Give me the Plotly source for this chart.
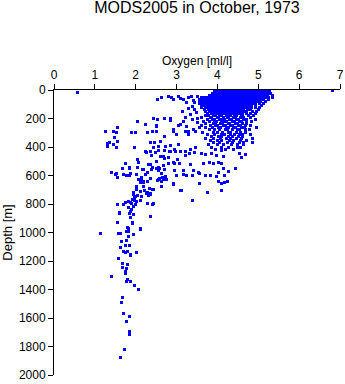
import plotly.graph_objects as go

# Dense core (0-415 m): depth of each row and oxygen values read along that row
dense_depths = [0, 14, 28, 42, 56, 70, 84, 98, 112, 126, 140, 154, 168, 182,
                196, 210, 224, 238, 252, 266, 280, 295, 310, 325, 340, 355, 370, 385, 400, 415]
dense_oxygen_rows = [
    [3.92, 3.99, 4.06, 4.12, 4.19, 4.26, 4.33, 4.40, 4.46, 4.53, 4.60, 4.67, 4.74, 4.80, 4.87, 4.94, 5.01, 5.08, 5.14, 5.21, 5.28],
    [3.95, 4.02, 4.09, 4.16, 4.23, 4.29, 4.36, 4.43, 4.50, 4.57, 4.63, 4.70, 4.77, 4.84, 4.91, 4.97, 5.04, 5.11, 5.18, 5.25],
    [3.88, 3.95, 4.02, 4.09, 4.15, 4.22, 4.29, 4.36, 4.43, 4.49, 4.56, 4.63, 4.70, 4.77, 4.83, 4.90, 4.97, 5.04, 5.11, 5.17, 5.24, 5.31],
    [3.80, 3.87, 3.93, 4.00, 4.07, 4.14, 4.21, 4.27, 4.34, 4.41, 4.48, 4.55, 4.61, 4.68, 4.75, 4.82, 4.89, 4.95, 5.02, 5.09, 5.16, 5.23, 5.34],
    [3.60, 3.67, 3.74, 3.81, 3.88, 3.95, 4.02, 4.08, 4.15, 4.22, 4.29, 4.36, 4.42, 4.49, 4.56, 4.63, 4.70, 4.76, 4.83, 4.90, 4.97, 5.04, 5.10, 5.17, 5.26, 5.36],
    [3.56, 3.63, 3.70, 3.77, 3.84, 3.91, 3.97, 4.04, 4.11, 4.18, 4.25, 4.31, 4.38, 4.45, 4.52, 4.59, 4.65, 4.72, 4.79, 4.86, 4.93, 4.99, 5.06, 5.13, 5.24],
    [3.55, 3.62, 3.69, 3.75, 3.82, 3.89, 3.96, 4.03, 4.09, 4.16, 4.23, 4.30, 4.37, 4.43, 4.50, 4.57, 4.64, 4.71, 4.77, 4.84, 4.91, 4.98, 5.05, 5.18],
    [3.57, 3.64, 3.71, 3.78, 3.85, 3.92, 3.98, 4.05, 4.12, 4.19, 4.26, 4.32, 4.39, 4.46, 4.53, 4.60, 4.66, 4.73, 4.80, 4.87, 4.94, 5.02, 5.12],
    [3.60, 3.68, 3.75, 3.82, 3.88, 3.95, 4.02, 4.09, 4.16, 4.22, 4.29, 4.36, 4.43, 4.50, 4.56, 4.63, 4.70, 4.77, 4.84, 4.92, 5.08],
    [3.62, 3.72, 3.79, 3.86, 3.93, 4.00, 4.06, 4.13, 4.20, 4.27, 4.34, 4.40, 4.47, 4.54, 4.61, 4.68, 4.75, 4.83, 4.92, 5.02],
    [3.68, 3.77, 3.84, 3.90, 3.97, 4.04, 4.11, 4.18, 4.24, 4.31, 4.38, 4.45, 4.52, 4.58, 4.65, 4.73, 4.82, 5.00],
    [3.72, 3.81, 3.88, 3.95, 4.02, 4.08, 4.15, 4.22, 4.29, 4.36, 4.42, 4.49, 4.56, 4.64, 4.72, 4.85, 4.96],
    [3.76, 3.85, 3.92, 3.99, 4.06, 4.13, 4.20, 4.26, 4.33, 4.40, 4.47, 4.54, 4.62, 4.70, 4.80, 4.92],
    [3.70, 3.79, 3.90, 3.95, 4.06, 4.10, 4.21, 4.27, 4.31, 4.42, 4.47, 4.58, 4.61, 4.77, 4.88],
    [3.62, 3.83, 3.86, 3.99, 4.03, 4.15, 4.24, 4.28, 4.39, 4.44, 4.57, 4.64, 4.80],
    [3.75, 3.88, 3.92, 4.04, 4.13, 4.17, 4.30, 4.34, 4.46, 4.51, 4.63, 4.71, 4.92],
    [3.66, 3.80, 3.93, 3.98, 4.11, 4.16, 4.23, 4.36, 4.41, 4.54, 4.60, 4.72, 4.84],
    [3.72, 3.90, 3.95, 4.08, 4.13, 4.26, 4.30, 4.43, 4.48, 4.62, 4.70],
    [3.60, 3.82, 3.96, 4.01, 4.14, 4.19, 4.33, 4.38, 4.51, 4.56, 4.69, 4.82],
    [3.70, 3.88, 4.02, 4.07, 4.21, 4.26, 4.40, 4.45, 4.59, 4.66, 4.95],
    [3.80, 3.94, 4.05, 4.19, 4.24, 4.36, 4.49, 4.53, 4.68, 4.78],
    [3.64, 3.90, 3.99, 4.12, 4.27, 4.33, 4.47, 4.57, 4.68],
    [3.76, 3.93, 4.10, 4.18, 4.33, 4.41, 4.55, 4.62, 4.82],
    [3.86, 4.03, 4.11, 4.27, 4.36, 4.51, 4.61],
    [3.70, 3.90, 4.07, 4.22, 4.31, 4.47, 4.58, 4.85],
    [3.82, 4.00, 4.10, 4.29, 4.40, 4.57, 4.72],
    [3.90, 4.04, 4.24, 4.36, 4.53, 4.64, 4.86],
    [3.78, 3.99, 4.14, 4.35, 4.48, 4.63],
    [3.86, 4.09, 4.28, 4.49, 4.57],
    [3.95, 4.20, 4.40],
]

# Scattered observations (oxygen ml/l, depth m)
shallow_pts = [
    (0.57, 14), (6.81, 0),
    (2.54, 70), (2.62, 52), (2.80, 44), (2.88, 55), (2.93, 68), (3.05, 49), (3.10, 62), (3.17, 68),
    (3.25, 91), (3.30, 56), (3.36, 48), (3.42, 72), (3.45, 85), (3.50, 44), (3.60, 60),
    (2.05, 224), (2.25, 243), (2.52, 248), (2.54, 208), (2.70, 203), (2.85, 200), (2.43, 199),
    (3.09, 243), (3.25, 255), (2.93, 278), (3.17, 220), (3.38, 208), (3.50, 231), (3.42, 278),
    (3.28, 290), (3.56, 266), (2.84, 215), (3.04, 246), (2.51, 253),
    (1.27, 294), (1.46, 294), (1.54, 301), (1.55, 266), (1.90, 301), (2.00, 301), (2.30, 301),
    (2.41, 294), (2.52, 290), (2.93, 290), (3.23, 290), (3.46, 294), (3.15, 150), (3.30, 130),
    (3.48, 160), (3.40, 115), (3.35, 175), (3.22, 190), (3.52, 200), (3.44, 140),
]
mid_pts = [
    (2.71, 329), (3.01, 313), (3.30, 313), (1.48, 336), (1.55, 360), (1.37, 371), (1.32, 395),
    (1.52, 402), (1.30, 376), (1.46, 381), (1.96, 406), (2.35, 371), (2.45, 367), (2.44, 406),
    (2.56, 395), (2.72, 395), (2.85, 390), (2.60, 363), (2.96, 416), (3.04, 379), (2.82, 433), (2.55, 428),
    (2.24, 434), (2.35, 430), (2.48, 441), (2.56, 425), (2.70, 425), (2.85, 430), (2.97, 430),
    (3.09, 434), (3.23, 430), (3.34, 418), (3.46, 406),
    (2.39, 463), (2.50, 503), (2.60, 468), (2.70, 479), (2.80, 514), (2.92, 510), (3.02, 486),
    (2.27, 440), (2.67, 468), (2.80, 472), (3.21, 463), (3.31, 449), (3.45, 440), (3.61, 445),
    (3.72, 456), (3.86, 445), (3.98, 463), (4.10, 426), (4.14, 468), (4.54, 445), (4.68, 456), (4.60, 476),
    (2.04, 488), (2.07, 512), (1.76, 519), (1.68, 551), (1.85, 546), (1.41, 582), (1.51, 590),
    (1.55, 611), (1.78, 600), (1.86, 600), (2.13, 617), (2.08, 628), (2.19, 558), (2.29, 582),
    (2.40, 547), (2.56, 542), (2.71, 558), (2.66, 617), (2.56, 628), (2.93, 656), (3.01, 598),
    (3.17, 593), (3.38, 600), (3.54, 582),
    (2.37, 526), (2.51, 554), (2.59, 554), (2.67, 533), (2.96, 519), (3.08, 515), (3.33, 526),
    (3.66, 515), (3.80, 510), (3.90, 519), (4.02, 510), (4.10, 519),
    (2.55, 566), (2.64, 589), (2.72, 608), (2.59, 620), (2.68, 631), (2.53, 636), (2.96, 566),
    (3.16, 566), (3.41, 566), (3.00, 600), (3.25, 603), (3.56, 589), (3.70, 603), (3.82, 603),
    (4.02, 580), (4.14, 550), (4.27, 575), (4.45, 550), (3.98, 608), (4.18, 603), (4.02, 643),
    (4.10, 655), (4.18, 650), (4.24, 643),
    (1.74, 519), (1.86, 549), (2.05, 545), (2.17, 561), (2.31, 526), (2.39, 556), (1.52, 589),
    (1.70, 596), (1.82, 603), (1.88, 589), (2.01, 596), (2.23, 596), (2.35, 620), (2.13, 631),
    (2.19, 643), (2.29, 643), (2.76, 631), (2.64, 643),
    (2.11, 652), (2.19, 652), (2.01, 680), (2.43, 697), (2.64, 678), (2.92, 660), (3.57, 655),
    (2.33, 690), (2.41, 701), (2.19, 678),
]
deep_pts = [
    (2.03, 701), (2.11, 713), (2.27, 729), (1.94, 736), (1.98, 755), (2.04, 743), (2.31, 736),
    (2.22, 703), (2.28, 722), (2.36, 733), (2.35, 726), (2.63, 680), (3.12, 708), (3.75, 718),
    (4.10, 708), (3.09, 703), (3.39, 772), (2.41, 800),
    (1.95, 722), (1.99, 745), (1.91, 768), (2.03, 780), (1.87, 792), (1.99, 803), (2.28, 799),
    (2.44, 799), (1.55, 800), (1.74, 792), (1.70, 802), (1.82, 784), (1.90, 795), (1.98, 772),
    (2.15, 749), (2.31, 742), (2.11, 772),
    (1.83, 827), (1.60, 863), (1.88, 850), (1.95, 874), (1.87, 897), (2.36, 885), (1.94, 819),
    (1.90, 842), (1.86, 866), (1.60, 866), (1.92, 935), (1.93, 932), (1.55, 928), (1.80, 962),
    (1.82, 990), (2.11, 972), (1.82, 973), (2.11, 976),
    (1.15, 1004), (1.57, 1004), (1.62, 1010), (1.78, 996), (1.94, 1013), (1.82, 1029), (1.78, 1053),
    (1.66, 1060), (1.74, 1092), (1.86, 1088), (1.62, 1104), (1.74, 1139), (2.01, 1141), (1.88, 1158),
    (1.57, 1180), (1.68, 1247), (1.78, 1256), (1.74, 1276), (1.76, 1290),
    (1.69, 1135), (1.81, 1135), (1.88, 1151), (1.68, 1221), (1.79, 1228), (1.41, 1308), (1.79, 1329),
    (1.88, 1345), (1.78, 1345), (1.97, 1370), (2.06, 1403), (1.68, 1455), (1.66, 1490), (1.70, 1567),
    (1.84, 1586), (1.78, 1626), (1.84, 1696), (1.84, 1714), (1.72, 1819), (1.62, 1878),
]

x_ticks = [0, 1, 2, 3, 4, 5, 6, 7]
y_ticks = [0, 200, 400, 600, 800, 1000, 1200, 1400, 1600, 1800, 2000]

oxygen = []
depth = []
for d, row in zip(dense_depths, dense_oxygen_rows):
    for o in row:
        oxygen.append(o)
        depth.append(d)
for pts in (shallow_pts, mid_pts, deep_pts):
    for o, d in pts:
        oxygen.append(o)
        depth.append(d)

FONT = "Liberation Sans, Arial, Helvetica, sans-serif"

fig = go.Figure()
fig.add_trace(go.Scatter(
    x=oxygen, y=depth, mode="markers",
    marker=dict(symbol="square", size=3, color="#0000ff", opacity=1, line=dict(width=0)),
    cliponaxis=False, hoverinfo="skip", showlegend=False,
))

fig.update_layout(
    width=345, height=384,
    margin=dict(l=54, r=5, t=90, b=9, autoexpand=False),
    paper_bgcolor="white", plot_bgcolor="white",
    font=dict(family=FONT, size=12, color="black"),
    title=dict(text="MODS2005 in October, 1973", x=0.5, xref="paper", xanchor="center",
               y=1 - 7 / 384, yref="container", yanchor="middle",
               font=dict(size=16, color="black", family=FONT)),
    xaxis=dict(side="top", range=[0, 7], tickvals=x_ticks, ticktext=[str(v) for v in x_ticks],
               showline=True, linecolor="black", linewidth=1, ticks="outside", ticklen=5,
               tickcolor="black", showgrid=False, zeroline=False, automargin=False,
               tickfont=dict(size=12),
               title=dict(text="Oxygen [ml/l]", font=dict(size=12), standoff=0)),
    yaxis=dict(range=[2000, 0], tickvals=y_ticks, ticktext=[str(v) for v in y_ticks],
               showline=True, linecolor="black", linewidth=1, ticks="outside", ticklen=5,
               tickcolor="black", showgrid=False, zeroline=False, automargin=False,
               tickfont=dict(size=12),
               title=dict(text="Depth [m]", font=dict(size=13), standoff=4)),
)

# Render the markers as crisp pixel blocks, like the reference
crisp = ("var s=document.createElement('style');"
         "s.innerHTML='.scatterlayer path.point{shape-rendering:crispEdges;}';"
         "document.head.appendChild(s);")

fig.write_html("out.html", post_script=crisp)
